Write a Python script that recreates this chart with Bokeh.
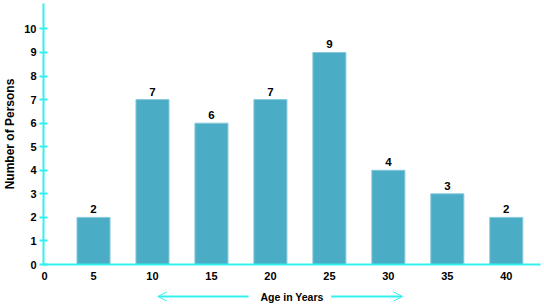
from bokeh.plotting import figure
from bokeh.models import ColumnDataSource, Range1d, FixedTicker, Arrow, OpenHead
from bokeh.layouts import column
from bokeh.core.properties import value
from bokeh.embed import file_html
from bokeh.resources import INLINE

# data
age_labels = ["5", "10", "15", "20", "25", "30", "35", "40"]
persons = [2, 7, 6, 7, 9, 4, 3, 2]
y_ticks = [0, 1, 2, 3, 4, 5, 6, 7, 8, 9, 10]
x_label = "Age in Years"
y_label = "Number of Persons"

positions = list(range(1, len(age_labels) + 1))
origin_pos = 0.17

CYAN = "#33F0F0"
BAR = "#4BACC6"
FONT = "Liberation Sans"

src = ColumnDataSource(dict(x=positions, y=persons, t=[str(v) for v in persons]))

xr = Range1d(0.152, 8.58)
p = figure(width=544, height=285, x_range=xr, y_range=Range1d(0, 11.08),
           output_backend="svg", toolbar_location=None,
           min_border_left=41, min_border_right=4, min_border_top=3, min_border_bottom=21)
p.outline_line_color = None
p.xgrid.visible = False
p.ygrid.visible = False
p.background_fill_color = "white"
p.border_fill_color = "white"

p.vbar(x="x", top="y", width=0.56, bottom=0, source=src,
       fill_color=BAR, line_color="#86C9DA", line_width=1)
p.text(x="x", y="y", text="t", source=src, text_align="center",
       text_baseline="bottom", y_offset=-4, text_font=value(FONT),
       text_font_size="11.5px", text_font_style="bold", text_color="black")

# x axis
p.xaxis.ticker = FixedTicker(ticks=[origin_pos] + positions)
overrides = {origin_pos: "0"}
for pos, lab in zip(positions, age_labels):
    overrides[pos] = lab
p.xaxis.major_label_overrides = overrides
p.xaxis.major_tick_in = 0
p.xaxis.major_tick_out = 0
p.xaxis.minor_tick_line_color = None
p.xaxis.major_label_standoff = 7
p.xaxis.axis_line_color = CYAN
p.xaxis.axis_line_width = 2
p.xaxis.major_label_text_font = FONT
p.xaxis.major_label_text_font_size = "11px"
p.xaxis.major_label_text_font_style = "bold"
p.xaxis.major_label_text_color = "black"

# y axis
p.yaxis.ticker = FixedTicker(ticks=y_ticks)
p.yaxis.major_tick_in = 4
p.yaxis.major_tick_out = 4
p.yaxis.major_tick_line_color = CYAN
p.yaxis.major_tick_line_width = 2
p.yaxis.minor_tick_line_color = None
p.yaxis.axis_line_color = CYAN
p.yaxis.axis_line_width = 2
p.yaxis.major_label_standoff = 3
p.yaxis.major_label_text_font = FONT
p.yaxis.major_label_text_font_size = "11px"
p.yaxis.major_label_text_font_style = "bold"
p.yaxis.major_label_text_color = "black"
p.yaxis.axis_label = y_label
p.yaxis.axis_label_standoff = 4
p.yaxis.axis_label_text_font = FONT
p.yaxis.axis_label_text_font_size = "12px"
p.yaxis.axis_label_text_font_style = "bold"
p.yaxis.axis_label_text_color = "black"

# bottom strip with axis title and arrows
p2 = figure(width=544, height=22, x_range=xr, y_range=Range1d(0, 1),
            output_backend="svg", toolbar_location=None,
            min_border_left=41, min_border_right=4, min_border_top=0, min_border_bottom=0)
p2.axis.visible = False
p2.xgrid.visible = False
p2.ygrid.visible = False
p2.outline_line_color = None
mid = (xr.start + xr.end) / 2
p2.text(x=[mid], y=[0.5], text=[x_label], text_align="center", text_baseline="middle",
        text_font=value(FONT), text_font_size="10.5px", text_font_style="bold",
        text_color="black")
p2.add_layout(Arrow(x_start=3.63, y_start=0.5, x_end=2.09, y_end=0.5,
                    line_color=CYAN, line_width=2,
                    end=OpenHead(size=9, line_color=CYAN, line_width=1)))
p2.add_layout(Arrow(x_start=5.03, y_start=0.5, x_end=6.24, y_end=0.5,
                    line_color=CYAN, line_width=2,
                    end=OpenHead(size=9, line_color=CYAN, line_width=1)))

layout = column(p, p2, spacing=0)
open("out.html", "w").write(file_html(layout, INLINE))
